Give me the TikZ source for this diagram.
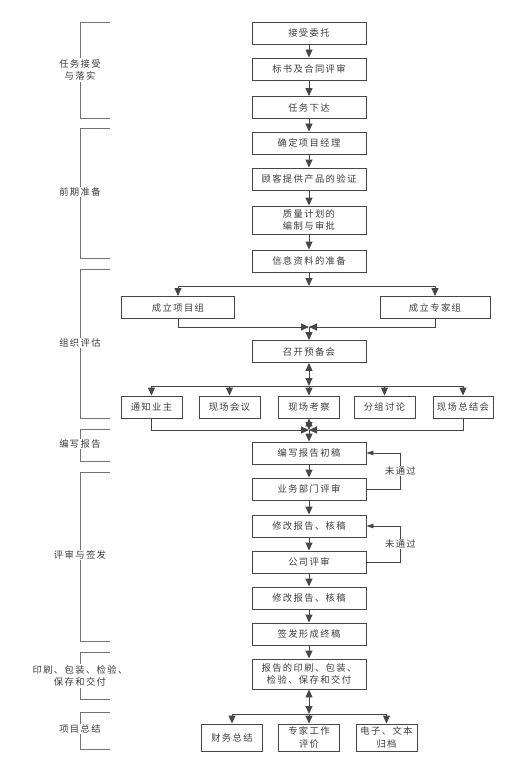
\documentclass[tikz,border=0pt]{standalone}
\usepackage{fontspec}
\usepackage{tikz}
\usetikzlibrary{arrows.meta}
\newfontfamily\cjk[LetterSpace=15]{Noto Sans CJK SC}
\definecolor{linegray}{RGB}{70,70,70}
\definecolor{textgray}{RGB}{60,60,60}

\begin{document}
\begin{tikzpicture}[x=1pt,y=-1pt,
    every node/.style={font=\cjk\fontsize{9.3}{12.5}\selectfont,text=textgray},
    box/.style={draw=linegray,line width=0.9pt,minimum width=114pt,
                minimum height=22pt,inner sep=1pt,align=center},
    arr/.style={draw=linegray,line width=0.9pt,-{Triangle[length=8pt,width=7pt]}},
    dbl/.style={draw=linegray,line width=0.9pt,
                {Triangle[length=8pt,width=7pt]}-{Triangle[length=8pt,width=7pt]}},
    back/.style={draw=linegray,line width=0.7pt,-{Triangle[length=7pt,width=4.5pt]}},
    brk/.style={draw=black!55,line width=0.8pt}]
  \useasboundingbox (0,0) rectangle (527,757);

  \node[box] (n1) at (309,33) {接受委托};
  \node[box] (n2) at (309,69) {标书及合同评审};
  \node[box] (n3) at (309,107.5) {任务下达};
  \node[box] (n4) at (309,143) {确定项目经理};
  \node[box] (n5) at (309,179) {顾客提供产品的验证};
  \node[box,minimum height=28pt] (n6) at (309,220) {质量计划的\\编制与审批};
  \node[box] (n7) at (309,261) {信息资料的准备};
  \foreach \a/\b in {n1/n2,n2/n3,n3/n4,n4/n5,n5/n6,n6/n7}
    \draw[arr] (\a) -- (\b);

  \node[box,minimum width=113pt] (g1) at (178,307.5) {成立项目组};
  \node[box,minimum width=110pt] (g2) at (435,307.5) {成立专家组};
  \coordinate (j1) at (309,286);
  \coordinate (j2) at (309,327);
  \draw[arr] (n7) -- (j1);
  \draw[arr] (j1) -| (g1);
  \draw[arr] (j1) -| (g2);
  \draw[arr] (g1) |- (j2);
  \draw[arr] (g2) |- (j2);

  \node[box] (m1) at (309,351.5) {召开预备会};
  \draw[arr] (j2) -- (m1);

  \coordinate (j3) at (309,386);
  \draw[dbl] (m1) -- (j3);
  \foreach \nm/\x/\w/\txt in {t1/151.5/61/通知业主,t2/229.5/61/现场会议,
      t3/309/61/现场考察,t4/384.5/61/分组讨论,t5/463/60/现场总结会}
    {\node[box,minimum width=\w pt] (\nm) at (\x,407) {\txt};
     \draw[arr] (j3) -| (\nm);}

  \coordinate (j4) at (309,430);
  \draw[dbl] (t3) -- (j4);
  \draw[arr] (t1) |- (j4);
  \draw[arr] (t5) |- (j4);

  \node[box] (r1) at (309,453) {编写报告初稿};
  \node[box] (r2) at (309,489) {业务部门评审};
  \node[box] (r3) at (309,526) {修改报告、核稿};
  \node[box] (r4) at (309,562) {公司评审};
  \node[box] (r5) at (309,598) {修改报告、核稿};
  \node[box] (r6) at (309,634) {签发形成终稿};
  \node[box,minimum height=30pt] (r7) at (309,674) {报告的印刷、包装、\\检验、保存和交付};
  \draw[arr] (j4) -- (r1);
  \foreach \a/\b in {r1/r2,r2/r3,r3/r4,r4/r5,r5/r6,r6/r7}
    \draw[arr] (\a) -- (\b);
  \draw[back] (r2.east) -- ++(34,0) |- node[pos=0.25,fill=white,inner sep=1pt] (fail1) {未通过} (r1.east);
  \draw[back] (r4.east) -- ++(34,0) |- node[pos=0.25,fill=white,inner sep=1pt] (fail2) {未通过} (r3.east);

  \coordinate (j5) at (309,714);
  \draw[dbl] (r7) -- (j5);
  \foreach \nm/\x/\txt in {e1/232/财务总结,e2/309/{专家工作\\评价},e3/386.5/{电子、文本\\归档}}
    {\node[box,minimum width=61pt,minimum height=27pt] (\nm) at (\x,737.5) {\txt};
     \draw[arr] (j5) -| (\nm);}

  \foreach \top/\bot/\ly/\txt [count=\i] in {22/118/70/{任务接受\\与落实},128/258/192/前期准备,
      269/418/343/组织评估,429/461/444/编写报告,472/641/555/评审与签发,
      652/699/676/{印刷、包装、检验、\\保存和交付},712/749/729/项目总结}
    {\draw[brk] (110,\top) -- (80,\top) -- (80,\bot) -- (110,\bot);
     \node[fill=white,align=center,inner sep=1pt] (stage\i) at (80,\ly) {\txt};}
\end{tikzpicture}
\end{document}
